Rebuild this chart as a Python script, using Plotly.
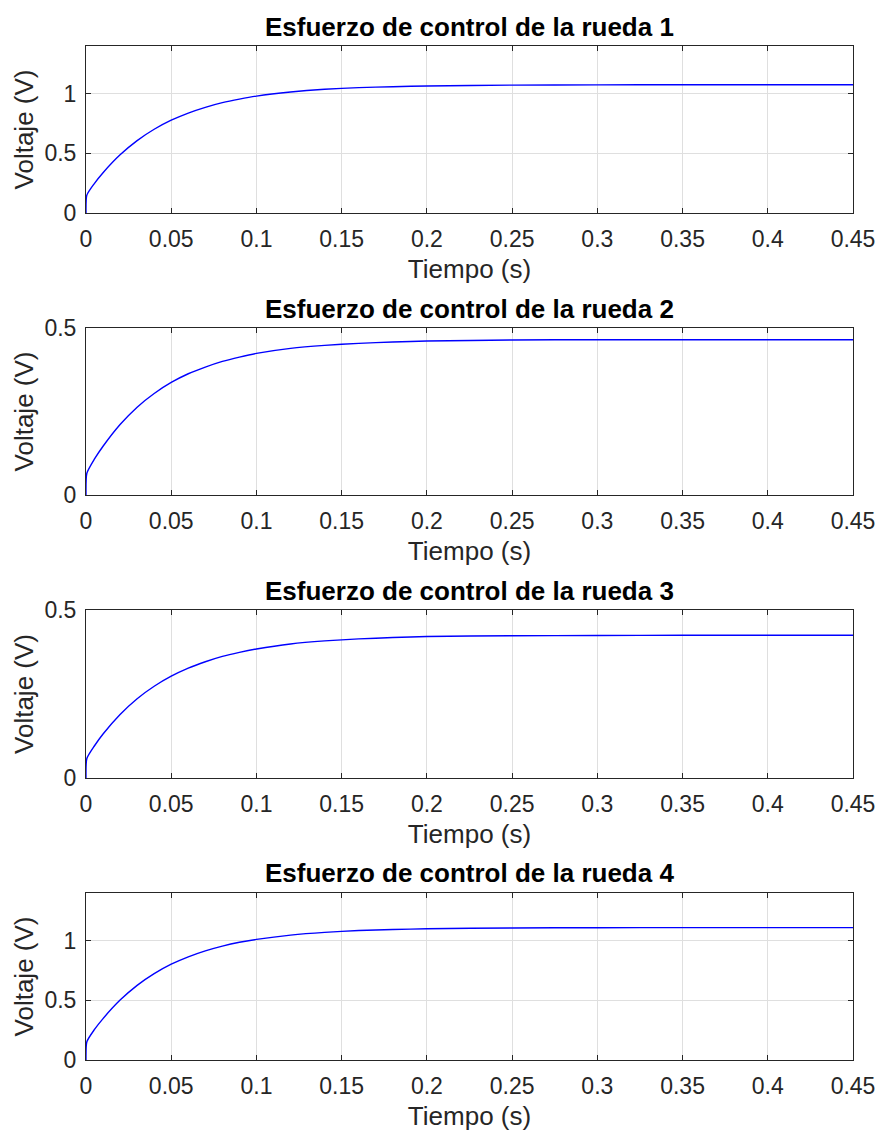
import plotly.graph_objects as go

# Time samples (s)
tiempo = [0, 0.0005, 0.005, 0.01, 0.02, 0.03, 0.04, 0.05, 0.06, 0.07, 0.08, 0.09, 0.1,
          0.12, 0.14, 0.16, 0.18, 0.2, 0.25, 0.3, 0.35, 0.4, 0.45]

# Control effort of each wheel (V)
rueda1 = [0, 0.15, 0.249, 0.338, 0.488, 0.607, 0.702, 0.778, 0.838, 0.886, 0.925, 0.955, 0.980,
          1.014, 1.037, 1.051, 1.059, 1.065, 1.072, 1.074, 1.075, 1.075, 1.075]
rueda2 = [0, 0.065, 0.108, 0.146, 0.211, 0.263, 0.304, 0.337, 0.363, 0.383, 0.400, 0.413, 0.424,
          0.439, 0.448, 0.454, 0.458, 0.461, 0.464, 0.465, 0.465, 0.465, 0.465]
rueda3 = [0, 0.058, 0.096, 0.131, 0.189, 0.236, 0.273, 0.303, 0.327, 0.346, 0.362, 0.374, 0.384,
          0.399, 0.408, 0.414, 0.418, 0.421, 0.4235, 0.424, 0.425, 0.425, 0.425]
rueda4 = [0, 0.153, 0.256, 0.347, 0.502, 0.626, 0.724, 0.803, 0.865, 0.915, 0.955, 0.987, 1.011,
          1.047, 1.070, 1.085, 1.094, 1.100, 1.107, 1.109, 1.110, 1.110, 1.110]

series = [rueda1, rueda2, rueda3, rueda4]
titulos = ["Esfuerzo de control de la rueda 1", "Esfuerzo de control de la rueda 2",
           "Esfuerzo de control de la rueda 3", "Esfuerzo de control de la rueda 4"]
y_max = [1.4, 0.5, 0.5, 1.4]
y_ticks = [[0, 0.5, 1], [0, 0.5], [0, 0.5], [0, 0.5, 1]]
y_ticktext = [["0", "0.5", "1"], ["0", "0.5"], ["0", "0.5"], ["0", "0.5", "1"]]
x_ticks = [0, 0.05, 0.1, 0.15, 0.2, 0.25, 0.3, 0.35, 0.4, 0.45]
x_ticktext = ["0", "0.05", "0.1", "0.15", "0.2", "0.25", "0.3", "0.35", "0.4", "0.45"]

W, H = 884, 1134
L, R = 86, 853
y_px = [(46, 213), (328, 495), (610, 778), (893, 1060)]
title_px = [27, 309, 591, 873]

FONT = "Liberation Sans, Arial, Helvetica, sans-serif"
AX = "#262626"
GRID = "#dfdfdf"

fig = go.Figure()
layout = dict(
    width=W, height=H,
    margin=dict(l=L, r=W - R, t=0, b=0, autoexpand=False),
    paper_bgcolor="white", plot_bgcolor="white",
    showlegend=False,
    font=dict(family=FONT, size=23, color=AX),
    annotations=[],
)

for i in range(4):
    n = "" if i == 0 else str(i + 1)
    fig.add_trace(go.Scatter(
        x=tiempo, y=series[i], mode="lines",
        line=dict(color="#0000ff", width=1.4, shape="spline", smoothing=0.6),
        xaxis="x" + n, yaxis="y" + n,
    ))
    top, bot = y_px[i]
    layout["xaxis" + n] = dict(
        domain=[0, 1], anchor="y" + n, range=[0, 0.45],
        tickvals=x_ticks, ticktext=x_ticktext,
        showgrid=True, gridcolor=GRID, gridwidth=1,
        showline=True, linecolor=AX, linewidth=1, mirror="ticks",
        ticks="inside", ticklen=5, tickcolor=AX,
        ticklabelstandoff=5,
        tickfont=dict(family=FONT, size=23, color=AX),
        title=dict(text="Tiempo (s)", font=dict(family=FONT, size=26, color=AX), standoff=9),
        zeroline=False, automargin=False,
    )
    layout["yaxis" + n] = dict(
        domain=[1 - bot / H, 1 - top / H], anchor="x" + n, range=[0, y_max[i]],
        tickvals=y_ticks[i], ticktext=y_ticktext[i],
        showgrid=True, gridcolor=GRID, gridwidth=1,
        showline=True, linecolor=AX, linewidth=1, mirror="ticks",
        ticks="inside", ticklen=5, tickcolor=AX,
        ticklabelstandoff=4,
        tickfont=dict(family=FONT, size=23, color=AX),
        title=dict(text="Voltaje (V)", font=dict(family=FONT, size=26, color=AX), standoff=3),
        zeroline=False, automargin=False,
    )
    layout["annotations"].append(dict(
        text="<b>" + titulos[i] + "</b>", xref="paper", yref="paper",
        x=0.5, y=1 - title_px[i] / H,
        xanchor="center", yanchor="middle", showarrow=False,
        font=dict(family=FONT, size=26, color="black"),
    ))

fig.update_layout(**layout)
fig.write_html("out.html", config={"displayModeBar": False},
               post_script="document.body.style.margin='0';")
